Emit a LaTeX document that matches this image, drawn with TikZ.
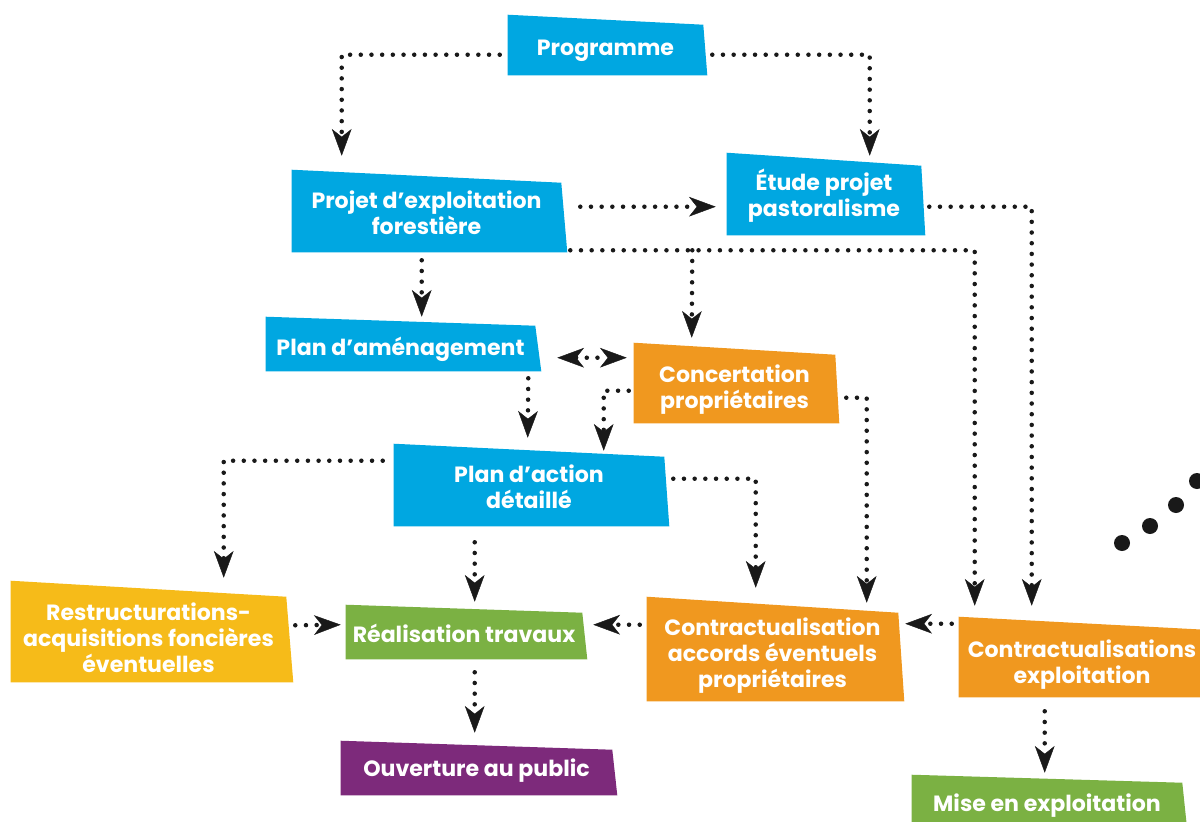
\documentclass[tikz,border=0pt]{standalone}
\usepackage{fontspec}
\setmainfont{Poppins}
\usetikzlibrary{arrows.meta,calc,backgrounds}

\definecolor{stepblue}{HTML}{00A7E1}
\definecolor{steporange}{HTML}{F0981F}
\definecolor{stepyellow}{HTML}{F6BB19}
\definecolor{stepgreen}{HTML}{7BB143}
\definecolor{steppurple}{HTML}{7D2A7B}

\tikzset{
  box/.style={inner sep=0pt},
  size/.style 2 args={minimum width=#1*0.025cm, minimum height=#2*0.025cm},
  lbl/.style={inner sep=0pt, text=white, align=center,
    font=\fontsize{15.7}{18.5}\selectfont\bfseries},
  lower/.style={yshift=-#1*0.025cm},
  link/.style={draw=black!90, line width=3.2pt, line cap=round,
    dash pattern=on 0pt off 7.6pt, ->},
  >={Stealth[length=19pt, width=14pt, inset=5.5pt, line width=0.3pt]}
}

\newcommand{\slantbox}[4]{%
  \fill[#2] (#1.south west) -- (#1.north west) -- ($(#1.north east)+(0,#3)$)
    -- ($(#1.south east)+(#4,0)$) -- cycle;}

\begin{document}
\begin{tikzpicture}[x=0.025cm,y=-0.025cm]
\useasboundingbox (0,0) rectangle (1200,821);
\clip (0,0) rectangle (1200,821);

\node[box, size={195}{60}, label={[lbl, lower=6]center:{Programme}}] (prog) at (605.5,45) {};
\node[box, size={269}{82}, label={[lbl, lower=2]center:{Projet d’exploitation\\forestière}}] (pef) at (426.5,211) {};
\node[box, size={194}{82}, label={[lbl, lower=2]center:{Étude projet\\pastoralisme}}] (etude) at (824,194) {};
\node[box, size={269}{54}, label={[lbl, lower=5]center:{Plan d’aménagement}}] (amen) at (400.5,344) {};
\node[box, size={201}{80}, label={[lbl, lower=7]center:{Concertation\\propriétaires}}] (concert) at (734.5,383) {};
\node[box, size={270}{82}, label={[lbl, lower=2]center:{Plan d’action\\détaillé}}] (pad) at (529,485) {};
\node[box, size={275}{101}, label={[lbl, lower=6]center:{Restructurations-\\acquisitions foncières\\éventuelles}}] (restr) at (148.5,631.5) {};
\node[box, size={236}{54}, label={[lbl, lower=1]center:{Réalisation travaux}}] (real) at (464,632) {};
\node[box, size={271}{54}, label={[lbl, lower=3]center:{Ouverture au public}}] (ouv) at (476.5,768) {};
\node[box, size={251}{104}, label={[lbl, lower=7]center:{Contractualisation\\accords éventuels\\propriétaires}}] (ccap) at (772.5,649) {};
\node[box, size={246}{80}, label={[lbl, lower=8]center:{Contractualisations\\exploitation}}] (cexp) at (1082,657) {};
\node[box, size={270}{55}, label={[lbl, lower=3]center:{Mise en exploitation}}] (mise) at (1047,802.5) {};

\begin{scope}[on background layer]
\slantbox{prog}{stepblue}{10}{4}
\slantbox{pef}{stepblue}{13}{6}
\slantbox{etude}{stepblue}{13}{4}
\slantbox{amen}{stepblue}{9}{6}
\slantbox{concert}{steporange}{12}{4}
\slantbox{pad}{stepblue}{13}{5}
\slantbox{restr}{stepyellow}{16}{7}
\slantbox{real}{stepgreen}{8}{5}
\slantbox{ouv}{steppurple}{9}{5}
\slantbox{ccap}{steporange}{16}{6}
\slantbox{cexp}{steporange}{13}{5}
\slantbox{mise}{stepgreen}{8}{5}
\end{scope}

\draw[link] ($(prog.north west)+(-8,40)$) -| ($(pef.north west)+(50,-14)$);
\draw[link] ($(prog.north east)+(9,40)$) -| ($(etude.north west)+(143,3)$);
\draw[link] ($(pef.north east)+(19,37)$) -- ($(etude.north west)+(-11,54)$);
\draw[link] ($(pef.south east)+(9,-2)$) -| ($(cexp.north west)+(16,-11)$);
\draw[link] ($(pef.south east)+(131,-2)$) -- ($(concert.north west)+(58,-5)$);
\draw[link] ($(etude.north east)+(8,54)$) -| ($(cexp.north west)+(73,-11)$);
\draw[link] ($(pef.south west)+(130,8)$) -- ($(amen.north west)+(156,0)$);
\draw[link, <->] ($(amen.north east)+(22,41)$) -- ($(concert.north west)+(-7,15)$);
\draw[link] ($(amen.south east)+(-7,7)$) -- ($(pad.north west)+(134,-6)$);
\draw[link] ($(concert.north west)+(-5,48)$) -| ($(pad.north west)+(210,7)$);
\draw[link] ($(concert.north east)+(11,55)$) -| ($(ccap.north west)+(220,6)$);
\draw[link] ($(pad.north west)+(-11,17)$) -| ($(restr.north west)+(213,-3)$);
\draw[link] ($(pad.north east)+(9,35)$) -| ($(ccap.north west)+(109,-9)$);
\draw[link] ($(pad.south west)+(81,16)$) -- ($(real.north west)+(129,-3)$);
\draw[link] ($(restr.south east)+(9,-57)$) -- ($(real.north west)+(-5,20)$);
\draw[link] ($(ccap.north west)+(-7,28)$) -- ($(real.north east)+(11,20)$);
\draw[link] ($(cexp.north west)+(-7,7)$) -- ($(ccap.north east)+(7,27)$);
\draw[link] ($(real.south west)+(129,13)$) -- ($(ouv.north west)+(134,-8)$);
\draw[link] ($(cexp.south west)+(86,14)$) -- ($(mise.north west)+(133,-2)$);

\foreach \x/\y in {1122/543, 1150/526, 1176/505, 1197/481}
  \fill[black!90] (\x,\y) circle (8);
\end{tikzpicture}
\end{document}
